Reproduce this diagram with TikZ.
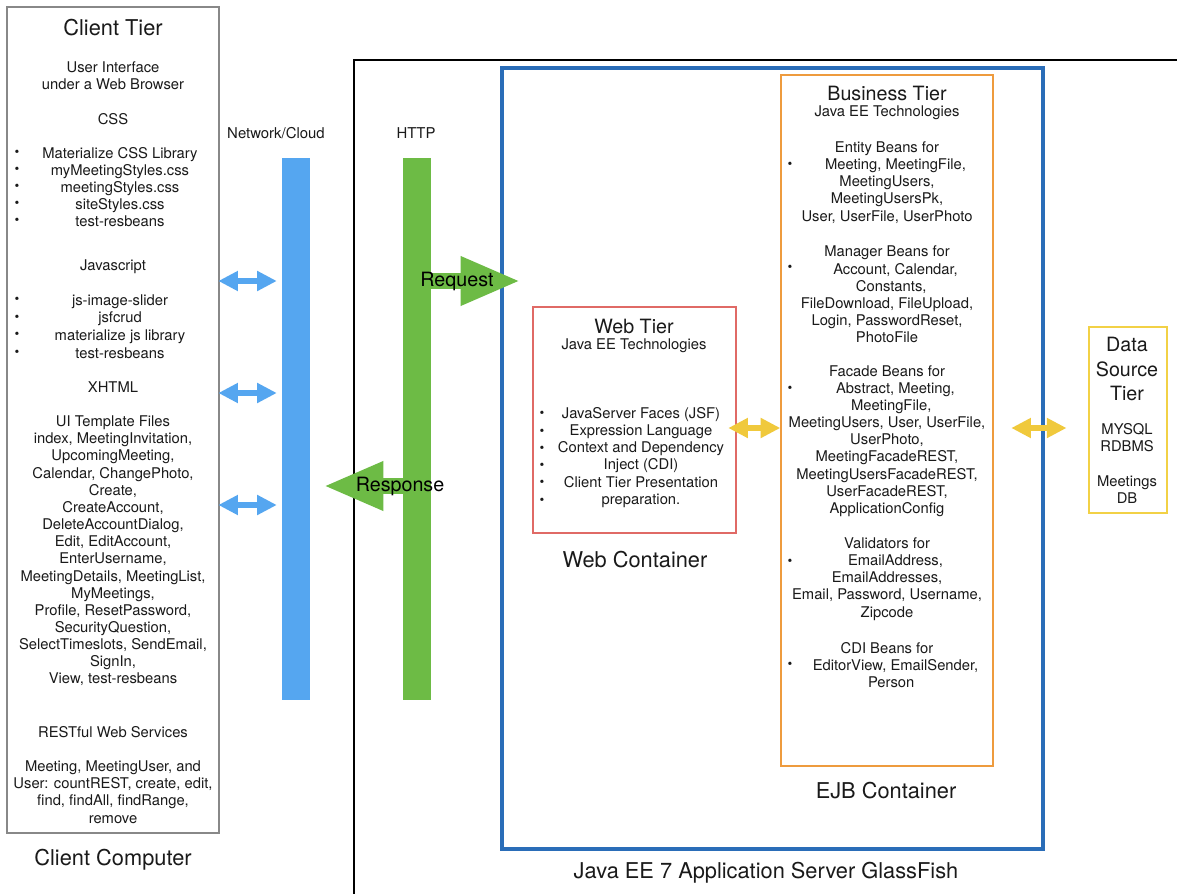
\documentclass[tikz,border=0pt]{standalone}
\usepackage{fontspec}
\setmainfont{TeX Gyre Heros}
\usetikzlibrary{arrows.meta, fit}

\definecolor{clientgray}{HTML}{888888}
\definecolor{serverblue}{HTML}{2A6DB8}
\definecolor{webred}{HTML}{E06A66}
\definecolor{ejborange}{HTML}{EE9B3E}
\definecolor{datayellow}{HTML}{F2D146}
\definecolor{netblue}{HTML}{55A6F0}
\definecolor{httpgreen}{HTML}{6DBB45}
\definecolor{arrowyellow}{HTML}{F0C93C}
\definecolor{textgray}{HTML}{1A1A1A}

\begin{document}
\begin{tikzpicture}[x=0.025cm, y=-0.025cm, every node/.style={text=textgray}]

    % Define block styles
    \tikzstyle{tierbox} = [draw, line width=2pt, inner sep=0pt]
    \tikzstyle{bar} = [inner sep=0pt]
    \tikzstyle{bodytext} = [font=\fontsize{10.5}{12.2}\selectfont, align=center, inner sep=0pt]
    \tikzstyle{smalltext} = [font=\fontsize{10.6}{12}\selectfont, inner sep=0pt]
    \tikzstyle{headtext} = [font=\fontsize{14}{17}\selectfont, align=center, inner sep=0pt]
    \tikzstyle{bigtext} = [font=\fontsize{15.5}{18}\selectfont, inner sep=0pt]
    \tikzstyle{bulletdot} = [font=\fontsize{9.6}{12.2}\selectfont, inner sep=0pt]
    \tikzstyle{dblarrow} = [line width=4.3pt, {Triangle[length=14pt,width=13.5pt]}-{Triangle[length=14pt,width=13.5pt]}]
    \tikzstyle{bigarrow} = [line width=12pt, draw=httpgreen, -{Triangle[length=43pt,width=32pt]}]

    \useasboundingbox (0,0) rectangle (1177,894);
    \fill[white] (0,0) rectangle (1177,894);

    % Place boxes
    \draw[line width=2pt] (354,894) -- (354,60) -- (1177,60);
    \node (server) [tierbox, draw=serverblue, line width=2.2pt, fit={(502,68) (1043,849)}] {};
    \node (client) [tierbox, draw=clientgray, fit={(7,7) (219,833)}] {};
    \node (web) [tierbox, draw=webred, fit={(533,307) (736,533)}] {};
    \node (ejb) [tierbox, draw=ejborange, fit={(781,75) (993,766)}] {};
    \node (data) [tierbox, draw=datayellow, fit={(1089,327) (1167,513)}] {};
    \node (netbar) [bar, fill=netblue, fit={(282,158) (310,700)}] {};
    \node (httpbar) [bar, fill=httpgreen, fit={(403,158) (431,700)}] {};
    \coordinate (reqtip) at (521,281);

    % Draw arrows
    \foreach \y in {281,393,505}
        \draw [dblarrow, draw=netblue, shorten <=-1.5pt, shorten >=3.5pt] (client.east |- 0,\y) -- (netbar.west |- 0,\y);
    \draw [bigarrow] (httpbar.center |- 0,281) -- (reqtip);
    \draw [bigarrow] (httpbar.center |- 0,486) -- ([xshift=9pt]netbar.east |- 0,486);
    \draw [dblarrow, draw=arrowyellow, shorten <=-6.5pt, shorten >=-0.5pt] (web.east |- 0,428) -- (ejb.west |- 0,428);
    \draw [dblarrow, draw=arrowyellow, shorten <=12pt, shorten >=15pt] (ejb.east |- 0,428) -- (data.west |- 0,428);

    % Client tier
    \node (clienttitle) [bigtext] at (113,28) {Client Tier};
    \node (browser) [bodytext] at (113,75.5) {User Interface\\under a Web Browser};
    \node (css) [bodytext] at (113,119) {CSS};
    \node (csslist) [bodytext] at (120,187) {Materialize CSS Library\\myMeetingStyles.css\\meetingStyles.css\\siteStyles.css\\test-resbeans};
    \node (js) [bodytext] at (113,267) {Javascript};
    \node (jslist) [bodytext, font=\fontsize{10.5}{12.5}\selectfont] at (120,326.5) {js-image-slider\\jsfcrud\\materialize js library\\test-resbeans};
    \node (xhtml) [bodytext] at (113,387) {XHTML};
    \node (uifiles) [bodytext] at (113,551) {UI Template Files\\index, MeetingInvitation,\\UpcomingMeeting,\\Calendar, ChangePhoto,\\Create,\\CreateAccount,\\DeleteAccountDialog,\\Edit, EditAccount,\\EnterUsername,\\MeetingDetails, MeetingList,\\MyMeetings,\\Profile, ResetPassword,\\SecurityQuestion,\\SelectTimeslots, SendEmail,\\SignIn,\\View, test-resbeans};
    \node (rest) [bodytext] at (113,732) {RESTful Web Services};
    \node (restlist) [bodytext] at (113,792) {Meeting, MeetingUser, and\\User: countREST, create, edit,\\find, findAll, findRange,\\remove};
    \node (clientlbl) [bigtext] at (113,860) {Client Computer};
    \foreach \y in {153,170,187,204,221,300,318,335,353}
        \node (cb\y) [bulletdot] at (17,\y) {\textbullet};

    % Network and HTTP
    \node (netlbl) [smalltext] at (276,133) {Network/Cloud};
    \node (httplbl) [smalltext] at (416,133) {HTTP};
    \node (reqlbl) [headtext, text=black] at (457,281) {Request};
    \node (resplbl) [headtext, text=black] at (400,486) {Response};

    % Web tier
    \node (webtitle) [headtext] at (634,326) {Web Tier};
    \node (webtech) [bodytext] at (634,346) {Java EE Technologies};
    \node (weblist) [bodytext] at (641,457.5) {JavaServer Faces (JSF)\\Expression Language\\Context and Dependency\\Inject (CDI)\\Client Tier Presentation\\preparation.};
    \foreach \y in {414,432,449,466,483,501}
        \node (wb\y) [bulletdot] at (542,\y) {\textbullet};
    \node (weblbl) [bigtext] at (635,560) {Web Container};

    % Business tier
    \node (ejbtitle) [headtext] at (887,93) {Business Tier};
    \node (ejbtech) [bodytext] at (887,113) {Java EE Technologies};
    \node (entity) [bodytext] at (887,182.5) {Entity Beans for\\\hspace*{12pt}Meeting, MeetingFile,\\MeetingUsers,\\MeetingUsersPk,\\User, UserFile, UserPhoto};
    \node (manager) [bodytext] at (887,294.5) {Manager Beans for\\\hspace*{12pt}Account, Calendar,\\\hspace*{6pt}Constants,\\FileDownload, FileUpload,\\Login, PasswordReset,\\PhotoFile};
    \node (facade) [bodytext] at (887,441) {Facade Beans for\\\hspace*{12pt}Abstract, Meeting,\\\hspace*{6pt}MeetingFile,\\MeetingUsers, User, UserFile,\\UserPhoto,\\MeetingFacadeREST,\\MeetingUsersFacadeREST,\\UserFacadeREST,\\ApplicationConfig};
    \node (valid) [bodytext] at (887,579) {Validators for\\\hspace*{12pt}EmailAddress,\\EmailAddresses,\\Email, Password, Username,\\Zipcode};
    \node (cdi) [bodytext] at (887,665) {CDI Beans for\\\hspace*{12pt}EditorView, EmailSender,\\\hspace*{6pt}Person};
    \foreach \y in {165,268,389,562,665}
        \node (eb\y) [bulletdot] at (790,\y) {\textbullet};
    \node (ejblbl) [bigtext] at (886,791) {EJB Container};

    % Data source tier
    \node (datatitle) [headtext, font=\fontsize{14}{17.1}\selectfont] at (1127,369) {Data\\Source\\Tier};
    \node (mysql) [bodytext] at (1127,437.5) {MYSQL\\RDBMS};
    \node (meetdb) [bodytext] at (1127,489.5) {Meetings\\DB};

    \node (serverlbl) [bigtext] at (766,873) {Java EE 7 Application Server GlassFish};

\end{tikzpicture}
\end{document}
